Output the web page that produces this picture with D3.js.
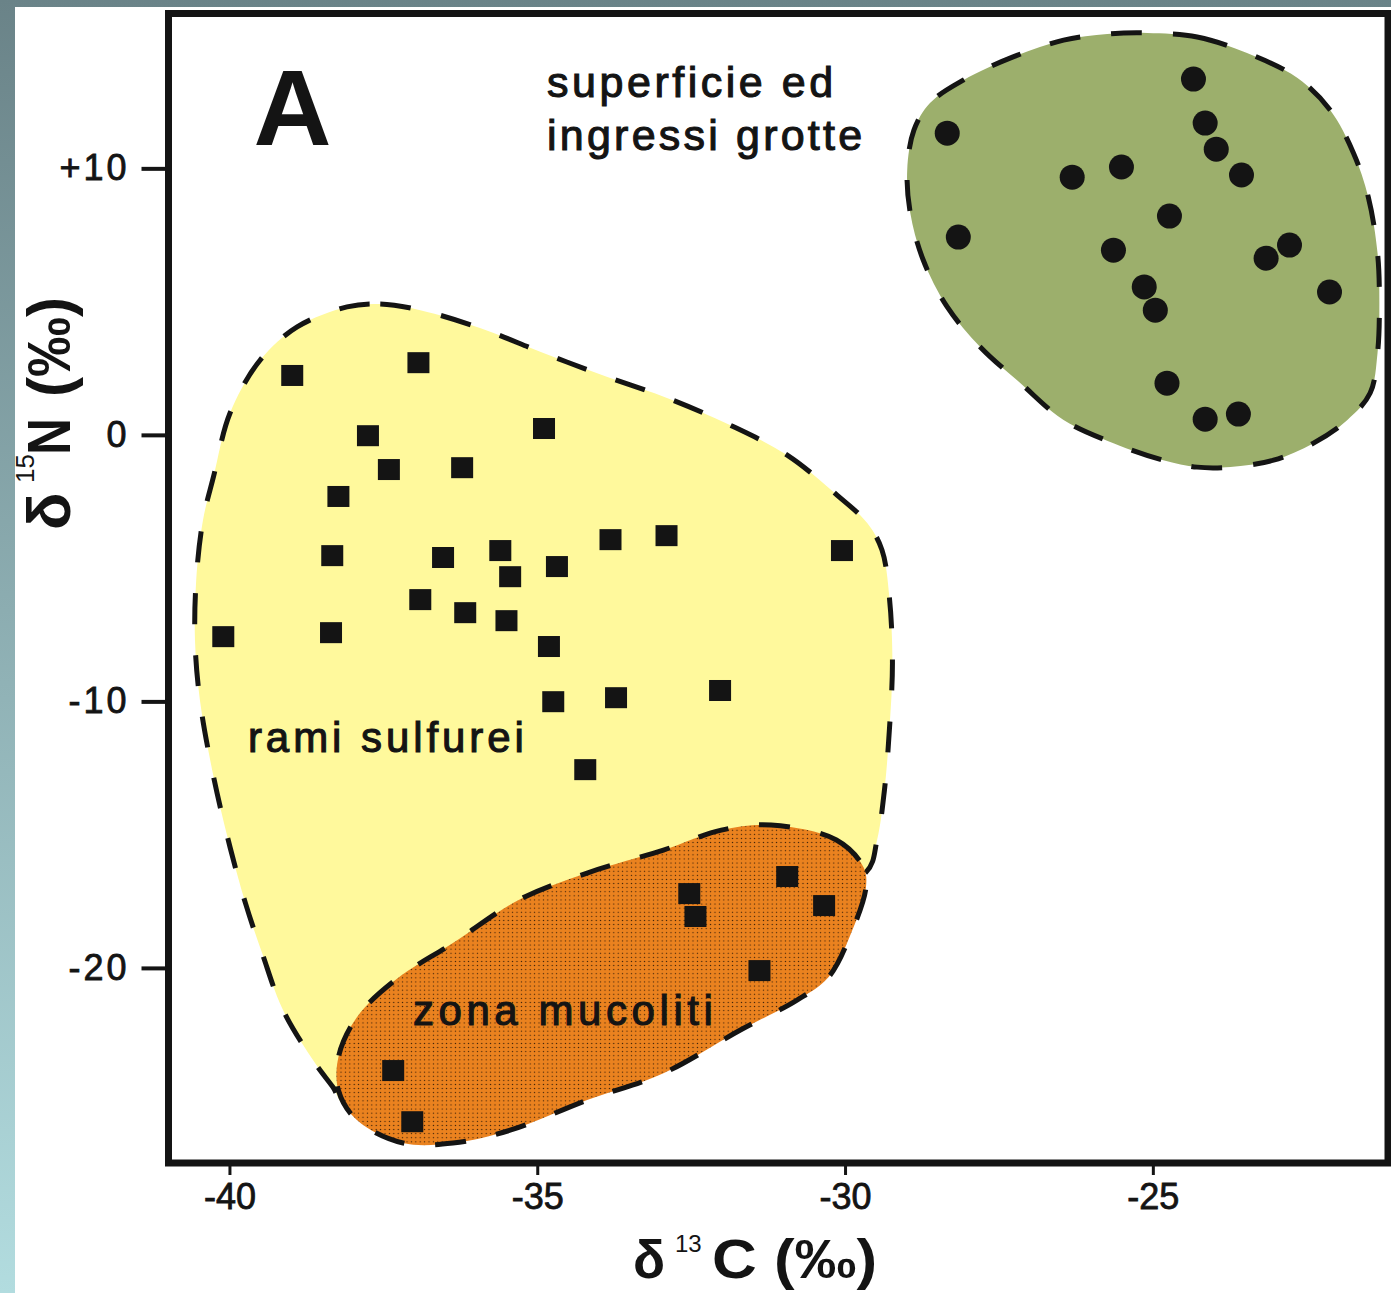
<!DOCTYPE html>
<html>
<head>
<meta charset="utf-8">
<script src="https://cdn.jsdelivr.net/npm/d3@7"></script>
<style>
  html, body { margin: 0; padding: 0; background: #fff; }
  svg { display: block; font-family: "Liberation Sans", Arial, Helvetica, sans-serif; }
</style>
</head>
<body>
<svg id="chart" width="1391" height="1293"></svg>
<script>
const xTicks = [-40, -35, -30, -25];
const yTicks = [10, 0, -10, -20];
const yTickLabels = ['+10', '0', '-10', '-20'];

// [δ13C, δ15N]
const sulfurPts = [
  [-38.98, 2.21], [-36.93, 2.69], [-37.75, -0.05], [-37.41, -1.32], [-36.22, -1.25],
  [-38.23, -2.33], [-38.33, -4.55], [-36.53, -4.62], [-35.60, -4.36], [-35.44, -5.34],
  [-36.90, -6.20], [-36.17, -6.69], [-35.50, -6.99], [-40.10, -7.59], [-38.35, -7.44],
  [-34.89, 0.22], [-33.81, -3.95], [-32.90, -3.80], [-30.05, -4.36], [-34.68, -4.96],
  [-34.81, -7.96], [-34.74, -10.03], [-33.72, -9.88], [-32.03, -9.61], [-34.22, -12.58]
];
const mucolitePts = [
  [-32.53, -17.23], [-32.43, -18.09], [-30.94, -16.59], [-30.34, -17.68],
  [-31.39, -20.12], [-37.34, -23.87], [-37.03, -25.79]
];
const surfacePts = [
  [-24.34, 13.35], [-28.34, 11.32], [-24.15, 11.70], [-23.97, 10.72], [-23.56, 9.75],
  [-25.51, 10.05], [-26.31, 9.67], [-24.73, 8.21], [-28.16, 7.42], [-25.64, 6.93],
  [-22.78, 7.12], [-23.16, 6.63], [-22.13, 5.36], [-25.14, 5.55], [-24.96, 4.68],
  [-24.77, 1.94], [-24.15, 0.59], [-23.61, 0.78]
];

// hand-drawn envelopes
const sulfurHull = [
  [-38.09, 4.80], [-37.55, 4.91], [-36.90, 4.68], [-35.93, 4.01], [-34.90, 3.07],
  [-33.86, 2.17], [-32.84, 1.34], [-31.87, 0.37], [-30.94, -0.76], [-30.13, -2.26],
  [-29.64, -3.31], [-29.40, -4.32], [-29.28, -6.09], [-29.23, -8.56], [-29.28, -11.08],
  [-29.36, -13.33], [-29.48, -15.20], [-29.66, -16.41], [-31.05, -17.46], [-33.98, -20.46],
  [-36.90, -24.21], [-38.12, -25.15], [-38.32, -24.47], [-38.61, -23.57], [-39.13, -21.58],
  [-39.47, -19.44], [-39.74, -17.57], [-40.02, -15.20], [-40.28, -12.58], [-40.48, -9.95],
  [-40.56, -7.70], [-40.54, -5.45], [-40.43, -3.20], [-40.26, -1.58], [-39.99, 0.82],
  [-39.50, 2.81], [-38.90, 4.05]
];
const mucoliteHull = [
  [-31.20, -14.64], [-30.14, -15.20], [-29.70, -16.22], [-29.66, -16.97], [-29.90, -18.69],
  [-30.27, -20.35], [-30.78, -21.21], [-31.70, -22.33], [-32.95, -23.95], [-34.19, -24.96],
  [-35.44, -26.09], [-36.37, -26.57], [-37.18, -26.57], [-37.93, -25.71], [-38.23, -24.59],
  [-38.23, -23.35], [-37.93, -21.85], [-37.31, -20.46], [-36.37, -19.07], [-35.31, -17.46],
  [-34.19, -16.44], [-32.95, -15.58], [-32.01, -14.83]
];
const surfaceHull = [
  [-25.09, 15.08], [-24.28, 14.93], [-23.47, 14.33], [-22.65, 13.39], [-22.12, 12.19],
  [-21.74, 10.57], [-21.50, 8.92], [-21.35, 6.82], [-21.32, 4.95], [-21.35, 3.07],
  [-21.47, 1.57], [-21.84, 0.56], [-22.39, -0.31], [-23.04, -0.95], [-23.74, -1.21],
  [-24.28, -1.21], [-24.83, -0.95], [-25.64, -0.31], [-26.45, 0.56], [-27.15, 1.94],
  [-27.80, 3.29], [-28.34, 4.80], [-28.73, 6.56], [-28.94, 8.32], [-28.99, 9.94],
  [-28.88, 11.44], [-28.62, 12.45], [-28.08, 13.31], [-27.27, 14.18], [-26.45, 14.81],
  [-25.74, 15.04]
];

const annotations = [
  { text: 'A', x: -39.61, y: 10.87, size: 108, weight: 'bold', len: null },
  { text: 'superficie ed', x: -34.84, y: 12.68, size: 43, weight: 'normal', len: 286 },
  { text: 'ingressi grotte', x: -34.84, y: 10.69, size: 43, weight: 'normal', len: 315 },
  { text: 'rami sulfurei', x: -39.70, y: -11.91, size: 42, weight: 'normal', len: 276 },
  { text: 'zona mucoliti', x: -37.02, y: -22.14, size: 42, weight: 'normal', len: 300 }
];

const W = 1391, H = 1293;
const plot = { left: 168.5, right: 1388, top: 13.5, bottom: 1163 };
const ink = '#141414';

const svg = d3.select('#chart');
const defs = svg.append('defs');

const bg = defs.append('linearGradient').attr('id', 'bg')
  .attr('x1', 0).attr('y1', 0).attr('x2', 0).attr('y2', 1);
bg.append('stop').attr('offset', '0%').attr('stop-color', '#6a8388');
bg.append('stop').attr('offset', '100%').attr('stop-color', '#b2dcdf');

const pat = defs.append('pattern').attr('id', 'dots')
  .attr('patternUnits', 'userSpaceOnUse').attr('width', 4.4).attr('height', 4.1);
pat.append('rect').attr('width', 4.4).attr('height', 4.1).attr('fill', '#ea821f');
pat.append('circle').attr('cx', 2.2).attr('cy', 2.05).attr('r', 0.65).attr('fill', '#2b1806');

svg.append('rect').attr('width', W).attr('height', H).attr('fill', 'url(#bg)');
svg.append('rect').attr('x', 15).attr('y', 7).attr('width', W - 15).attr('height', H - 7).attr('fill', '#fff');

const x = d3.scaleLinear().domain([-40.99, -21.18]).range([plot.left, plot.right]);
const y = d3.scaleLinear().domain([-27.32, 15.81]).range([plot.bottom, plot.top]);

const line = d3.line()
  .x(d => x(d[0]))
  .y(d => y(d[1]))
  .curve(d3.curveCatmullRomClosed.alpha(0.5));

function drawHull(pts, fill) {
  svg.append('path').attr('d', line(pts)).attr('fill', fill);
  svg.append('path').attr('d', line(pts))
    .attr('fill', 'none')
    .attr('stroke', ink)
    .attr('stroke-width', 5)
    .attr('stroke-dasharray', '31,31');
}

drawHull(sulfurHull, '#fff99c');
drawHull(surfaceHull, '#9caf6c');
drawHull(mucoliteHull, 'url(#dots)');

// squares
const sq = 22;
svg.append('g').selectAll('rect')
  .data(sulfurPts.concat(mucolitePts))
  .join('rect')
  .attr('x', d => x(d[0]) - sq / 2)
  .attr('y', d => y(d[1]) - sq / 2)
  .attr('width', sq)
  .attr('height', sq - 1)
  .attr('fill', ink);

// circles
svg.append('g').selectAll('circle')
  .data(surfacePts)
  .join('circle')
  .attr('cx', d => x(d[0]))
  .attr('cy', d => y(d[1]))
  .attr('r', 12.5)
  .attr('fill', ink);

// text in the plot
annotations.forEach(a => {
  const t = svg.append('text')
    .attr('x', x(a.x))
    .attr('y', y(a.y))
    .attr('font-size', a.size)
    .attr('font-weight', a.weight)
    .attr('fill', ink)
    .text(a.text);
  if (a.len) {
    t.attr('textLength', a.len).attr('lengthAdjust', 'spacing')
      .attr('stroke', ink).attr('stroke-width', 1.1);
  }
});

// frame
svg.append('rect')
  .attr('x', plot.left).attr('y', plot.top)
  .attr('width', plot.right - plot.left).attr('height', plot.bottom - plot.top)
  .attr('fill', 'none').attr('stroke', ink).attr('stroke-width', 7);

// axes
const gx = svg.append('g').attr('transform', `translate(0,${plot.bottom})`)
  .call(d3.axisBottom(x).tickValues(xTicks).tickSize(12).tickPadding(8).tickFormat(d3.format('d')));
gx.select('.domain').remove();
gx.selectAll('.tick line').attr('stroke', ink).attr('stroke-width', 3);
gx.selectAll('.tick text').attr('font-size', 36).attr('fill', ink)
  .attr('stroke', ink).attr('stroke-width', 0.8)
  .attr('font-family', '"Liberation Sans", Arial, sans-serif').text(d => String(d).replace('−', '-'));

const gy = svg.append('g').attr('transform', `translate(${plot.left},0)`)
  .call(d3.axisLeft(y).tickValues(yTicks).tickSize(27).tickPadding(12)
    .tickFormat((d, i) => yTickLabels[i]));
gy.select('.domain').remove();
gy.selectAll('.tick line').attr('stroke', ink).attr('stroke-width', 4);
gy.selectAll('.tick text').attr('font-size', 36).attr('fill', ink)
  .attr('stroke', ink).attr('stroke-width', 0.8)
  .attr('letter-spacing', 3)
  .attr('font-family', '"Liberation Sans", Arial, sans-serif');

// x axis title: δ 13C (‰)
const xt = svg.append('g').attr('fill', ink);
xt.append('text').attr('x', 633).attr('y', 1278).attr('font-size', 53).attr('font-weight', 'bold').text('δ');
xt.append('text').attr('x', 675).attr('y', 1252).attr('font-size', 24).text('13');
xt.append('text').attr('x', 712).attr('y', 1278).attr('font-size', 56).attr('font-weight', 'bold')
  .attr('textLength', 165).attr('lengthAdjust', 'spacingAndGlyphs').text('C (‰)');

// y axis title: δ 15N (‰)
const yt = svg.append('g').attr('fill', ink).attr('transform', 'translate(70,530) rotate(-90)');
yt.append('text').attr('x', 0).attr('y', 0).attr('font-size', 62).attr('font-weight', 'bold').text('δ');
yt.append('text').attr('x', 47).attr('y', -36).attr('font-size', 26).text('15');
yt.append('text').attr('x', 75).attr('y', 0).attr('font-size', 62).attr('font-weight', 'bold')
  .attr('textLength', 37).attr('lengthAdjust', 'spacingAndGlyphs').text('N');
yt.append('text').attr('x', 133).attr('y', 0).attr('font-size', 62).attr('font-weight', 'bold')
  .attr('textLength', 100).attr('lengthAdjust', 'spacingAndGlyphs').text('(‰)');
</script>
</body>
</html>
